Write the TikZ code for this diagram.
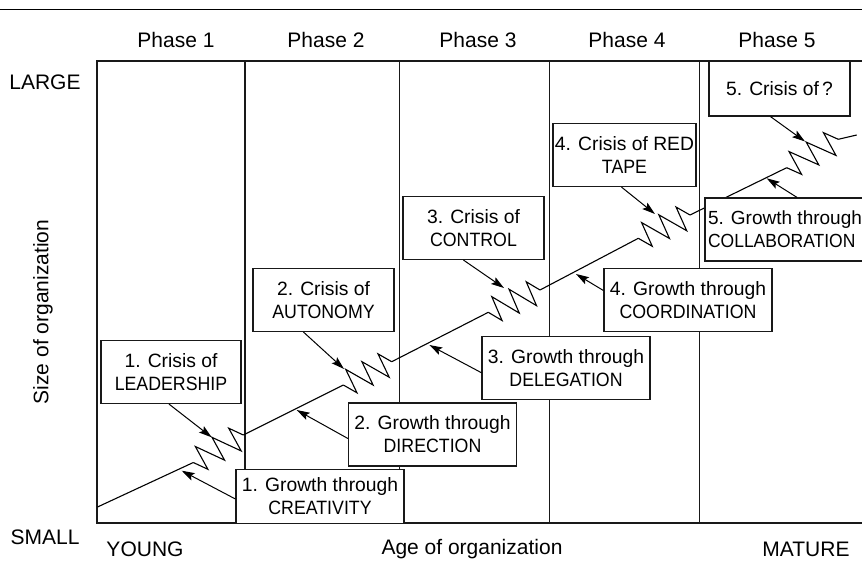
\documentclass[tikz,border=0pt]{standalone}
\usepackage{fontspec}
\setmainfont{Liberation Sans}
\newfontfamily\capsfont{Liberation Sans}[FakeStretch=0.92]
\usetikzlibrary{calc,arrows.meta}
\tikzset{
  frameline/.style={line width=1.1pt, draw=black!90},
  boxs/.style={draw=black!90, line width=1.2pt, fill=white, inner sep=0pt, align=center,
               font=\fontsize{19.3}{23}\selectfont, minimum height=63pt},
  crisisbox/.style={boxs, minimum width=141pt},
  growthbox/.style={boxs, minimum width=168pt},
  curveline/.style={line width=1.1pt, line join=miter},
  arr/.style={line width=1pt, -{Stealth[length=13pt,width=8pt,inset=2.5pt]}},
  lbl/.style={font=\fontsize{21}{25}\selectfont, inner sep=0pt},
}
\newcommand\crisiszig[2]{%
  \draw[curveline] (#1)
    -- ($(#1)!0.1667!(#2)!13pt!-90:(#2)$)
    -- ($(#1)!0.1667!(#2)!13pt!90:(#2)$)
    -- ($(#1)!0.5!(#2)!13pt!-90:(#2)$)
    -- ($(#1)!0.5!(#2)!13pt!90:(#2)$)
    -- ($(#1)!0.8333!(#2)!13pt!-90:(#2)$)
    -- ($(#1)!0.8333!(#2)!13pt!90:(#2)$)
    -- (#2);}
\begin{document}
\begin{tikzpicture}[x=1pt,y=-1pt]
\useasboundingbox (0,0) rectangle (862,562);
\clip (0,0) rectangle (862,562);
% top rule
\draw[line width=1.6pt] (0,9.5) -- (862,9.5);
% frame
\coordinate (ftl) at (97,61);
\coordinate (fbl) at (97,523);
\draw[frameline] (862,61) -- (ftl) -- (fbl) -- (862,523);
\foreach \xx in {245,399.5,549.3,699.3}
  \draw[frameline] (\xx,61) -- (\xx,523);
% phase labels
\node[lbl] (ph1) at (176,40) {Phase 1};
\node[lbl] (ph2) at (326,40) {Phase 2};
\node[lbl] (ph3) at (478,40) {Phase 3};
\node[lbl] (ph4) at (627,40) {Phase 4};
\node[lbl] (ph5) at (777,40) {Phase 5};
% axis labels
\node[lbl] (large) at (45,82.5) {LARGE};
\node[lbl] (small) at (45,537) {SMALL};
\node[lbl, rotate=90] (size) at (43,312) {Size of organization};
\node[lbl] (young) at (145,549) {YOUNG};
\node[lbl] (age) at (472,549) {Age of organization};
\node[lbl] (mature) at (806,549) {MATURE};
% growth curve
\coordinate (g0) at (97.5,507);
\coordinate (s1) at (193.3,462.5);
\coordinate (e1) at (243.3,435);
\coordinate (s2) at (343.3,385);
\coordinate (e2) at (391.7,361.7);
\coordinate (s3) at (488.3,312.3);
\coordinate (e3) at (540,290);
\coordinate (s4) at (638.3,238.3);
\coordinate (e4) at (690,215);
\coordinate (s5) at (786.7,167.7);
\coordinate (e5) at (838.3,139.3);
\coordinate (gend) at (856.7,135);
\draw[curveline] (g0) -- (s1);
\draw[curveline] (e1) -- (s2);
\draw[curveline] (e2) -- (s3);
\draw[curveline] (e3) -- (s4);
\draw[curveline] (e4) -- (s5);
\draw[curveline] (e5) -- (gend);
\crisiszig{s1}{e1}
\crisiszig{s2}{e2}
\crisiszig{s3}{e3}
\crisiszig{s4}{e4}
\crisiszig{s5}{e5}
% boxes
\node[crisisbox, minimum width=140pt] (c1) at (171,372) {1. Crisis of\\{\capsfont LEADERSHIP}};
\node[crisisbox] (c2) at (323.5,300) {2. Crisis of\\{\capsfont AUTONOMY}};
\node[crisisbox] (c3) at (473.5,228) {3. Crisis of\\{\capsfont CONTROL}};
\node[crisisbox, minimum width=143pt] (c4) at (624.5,155) {4. Crisis of RED\\{\capsfont TAPE}};
\node[crisisbox, minimum height=55pt] (c5) at (779.5,88.5) {5. Crisis of\,?};
\node[growthbox, minimum height=54pt] (g1) at (320,496.5) {1. Growth through\\{\capsfont CREATIVITY}};
\node[growthbox] (g2) at (432.5,434.5) {2. Growth through\\{\capsfont DIRECTION}};
\node[growthbox] (g3) at (566,367.7) {3. Growth through\\{\capsfont DELEGATION}};
\node[growthbox] (g4) at (688,300) {4. Growth through\\{\capsfont COORDINATION}};
\node[growthbox, minimum width=160pt, align=left, font=\fontsize{19}{23}\selectfont] (g5) at (785,229.5) {5. Growth through\\{\capsfont COLLABORATION}};
% arrow targets
\coordinate (c1tip) at (211.7,437.3);
\coordinate (c2tip) at (344,369);
\coordinate (c3tip) at (504,288);
\coordinate (c4tip) at (655,214);
\coordinate (c5tip) at (805,141.5);
\coordinate (g1tip) at (181.7,470.7);
\coordinate (g2tip) at (296.7,410);
\coordinate (g3tip) at (429.3,345);
\coordinate (g4tip) at (576,274);
\coordinate (g5tip) at (766.7,178.3);
% arrows
\draw[arr] ([xshift=-2pt]c1.south) -- (c1tip);
\draw[arr] ([xshift=-20pt]c2.south) -- (c2tip);
\draw[arr] ([xshift=-10pt]c3.south) -- (c3tip);
\draw[arr] ([xshift=-3pt]c4.south) -- (c4tip);
\draw[arr] ([xshift=-9pt]c5.south) -- (c5tip);
\draw[arr] ([yshift=-2.5pt]g1.west) -- (g1tip);
\draw[arr] ([yshift=-4pt]g2.west) -- (g2tip);
\draw[arr] ([yshift=-5pt]g3.west) -- (g3tip);
\draw[arr] ([yshift=9.5pt]g4.west) -- (g4tip);
\draw[arr] ([xshift=12pt]g5.north) -- (g5tip);
\end{tikzpicture}
\end{document}
